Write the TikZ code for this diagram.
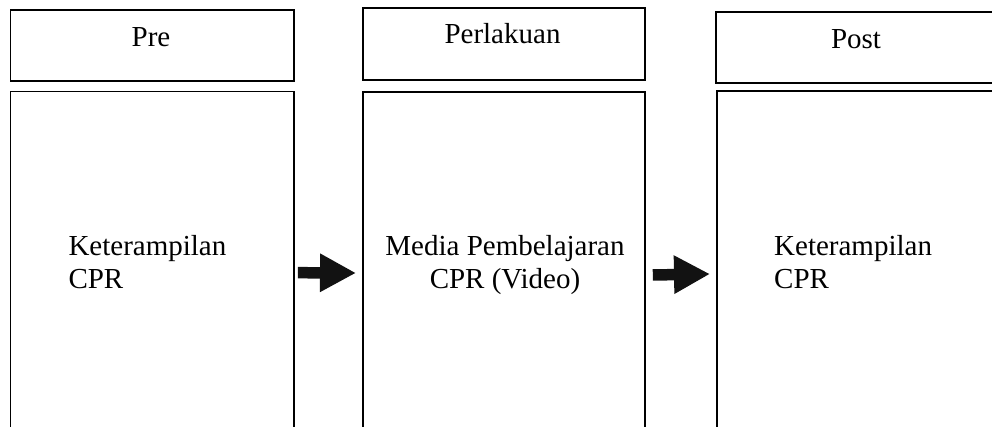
\documentclass[tikz,border=0pt]{standalone}
\usepackage{fontspec}
\setmainfont{Liberation Serif}
\usetikzlibrary{arrows.meta}
\begin{document}
\begin{tikzpicture}[x=1pt,y=-1pt,
  box/.style={draw=black,line width=1.8pt,anchor=north west,inner sep=0pt},
  lbl/.style={inner sep=0pt,font=\fontsize{29}{33.5}\selectfont},
  bigarrow/.style={line width=11.5pt,draw=black!93,fill=black!93,-{Triangle[length=36pt,width=36pt]}}]
\useasboundingbox (0,0) rectangle (992,427);
\clip (0,0) rectangle (992,427);
% header boxes
\node[box,minimum width=283.5pt,minimum height=70.5pt] (h1) at (9.5,9.5) {};
\node[box,minimum width=282pt,minimum height=72pt] (h2) at (362,7) {};
\node[box,minimum width=300pt,minimum height=71pt] (h3) at (715,11) {};
% big boxes (open at the bottom of the picture)
\node[box,minimum width=283.5pt,minimum height=400pt] (b1) at (9.5,90.7) {};
\node[box,minimum width=282pt,minimum height=400pt] (b2) at (362,91) {};
\node[box,minimum width=300pt,minimum height=400pt] (b3) at (716,90) {};
% header labels
\node[lbl,anchor=base] (t1) at (151,47) {Pre};
\node[lbl,anchor=base] (t2) at (502.5,44) {Perlakuan};
\node[lbl,anchor=base] (t3) at (856,49) {Post};
% body labels (base = baseline of the last line)
\node[lbl,anchor=base west,align=left] (c1) at (68.3,289) {Keterampilan\\CPR};
\node[lbl,anchor=base,align=center] (c2) at (505,289) {Media Pembelajaran\\CPR (Video)};
\node[lbl,anchor=base west,align=left] (c3) at (774,289) {Keterampilan\\CPR};
% arrows
\draw[bigarrow] ([shift={(3,182)}]b1.north east) -- ([shift={(-6,182)}]b2.north west);
\draw[bigarrow] ([shift={(7,184)}]b2.north east) -- ([shift={(-6,184)}]b3.north west);
\end{tikzpicture}
\end{document}
